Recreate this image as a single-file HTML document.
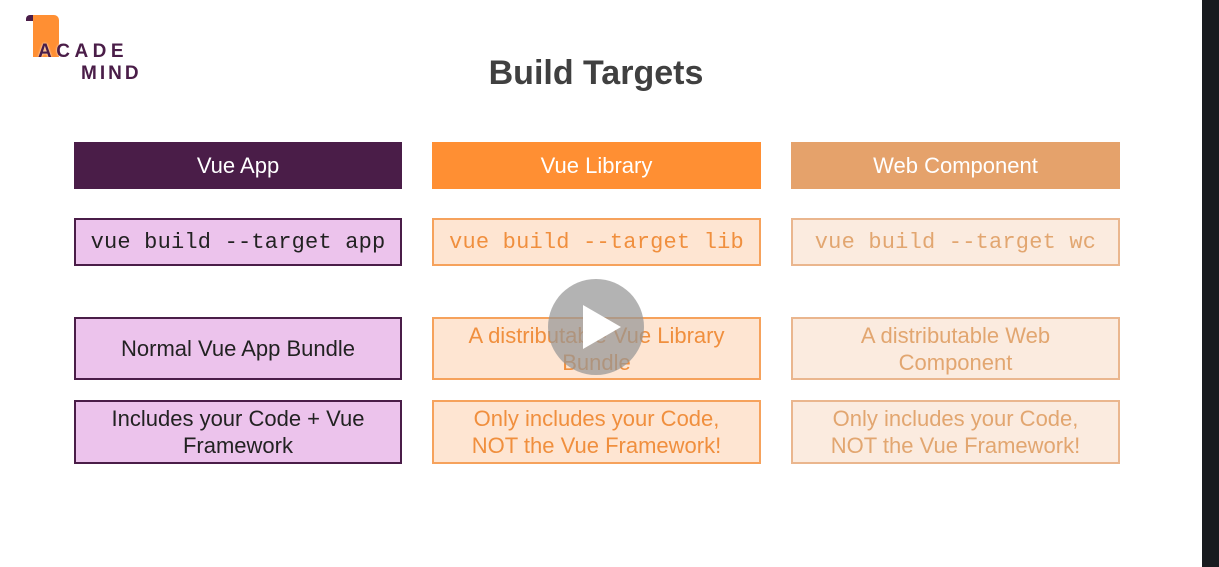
<!DOCTYPE html>
<html><head><style>
body{margin:0;width:1219px;height:567px;background:#fff;position:relative;overflow:hidden;font-family:"Liberation Sans",sans-serif}
.b{position:absolute;box-sizing:border-box;display:flex;align-items:center;justify-content:center;text-align:center;font-size:22px;line-height:27px}
.m{font-family:"Liberation Mono",monospace;font-size:22px;letter-spacing:0.2px}
</style></head><body>
<div style="position:absolute;right:0;top:0;width:17px;height:567px;background:#181b1f"></div>
<!-- logo -->
<div style="position:absolute;left:26px;top:15px;width:7px;height:6px;background:#4a1d48;border-radius:4px 0 0 0"></div>
<div style="position:absolute;left:33px;top:15px;width:26px;height:42px;background:#ff8f33;border-radius:0 5px 0 0"></div>
<div style="position:absolute;left:38px;top:42px;font-weight:bold;font-size:19px;letter-spacing:4.5px;color:#4a1d48;line-height:20px;text-shadow:0 0 2px #fff">ACADE</div>
<div style="position:absolute;left:81px;top:64px;font-weight:bold;font-size:19px;letter-spacing:3px;color:#4a1d48;line-height:20px">MIND</div>
<div style="position:absolute;left:0;width:1192px;top:54px;text-align:center;font-weight:bold;font-size:34px;color:#404040">Build Targets</div>

<div class="b" style="left:74px;top:142px;width:328px;height:47px;background:#4a1d48;color:#fff">Vue App</div>
<div class="b" style="left:432px;top:142px;width:329px;height:47px;background:#ff8f33;color:#fff">Vue Library</div>
<div class="b" style="left:791px;top:142px;width:329px;height:47px;background:#e5a26b;color:#fff">Web Component</div>

<div class="b m" style="left:74px;top:218px;width:328px;height:48px;background:#ecc3ec;border:2px solid #4a1d48;color:#222">vue build --target app</div>
<div class="b m" style="left:432px;top:218px;width:329px;height:48px;background:#fee5d2;border:2px solid #f6a25c;color:#f08f3e">vue build --target lib</div>
<div class="b m" style="left:791px;top:218px;width:329px;height:48px;background:#fbebdf;border:2px solid #eab68e;color:#e2a670">vue build --target wc</div>

<div class="b" style="left:74px;top:317px;width:328px;height:63px;background:#ecc3ec;border:2px solid #4a1d48;color:#222">Normal Vue App Bundle</div>
<div class="b" style="left:432px;top:317px;width:329px;height:63px;background:#fee5d2;border:2px solid #f6a25c;color:#f08f3e">A distributable Vue Library<br>Bundle</div>
<div class="b" style="left:791px;top:317px;width:329px;height:63px;background:#fbebdf;border:2px solid #eab68e;color:#e2a670">A distributable Web<br>Component</div>

<div class="b" style="left:74px;top:400px;width:328px;height:64px;background:#ecc3ec;border:2px solid #4a1d48;color:#222">Includes your Code + Vue<br>Framework</div>
<div class="b" style="left:432px;top:400px;width:329px;height:64px;background:#fee5d2;border:2px solid #f6a25c;color:#f08f3e">Only includes your Code,<br>NOT the Vue Framework!</div>
<div class="b" style="left:791px;top:400px;width:329px;height:64px;background:#fbebdf;border:2px solid #eab68e;color:#e2a670">Only includes your Code,<br>NOT the Vue Framework!</div>

<div style="position:absolute;left:548px;top:279px;width:96px;height:96px;border-radius:50%;background:rgba(150,150,150,0.72)"></div>
<div style="position:absolute;left:583px;top:305px;width:0;height:0;border-top:22px solid transparent;border-bottom:22px solid transparent;border-left:38px solid #fff"></div>
</body></html>
